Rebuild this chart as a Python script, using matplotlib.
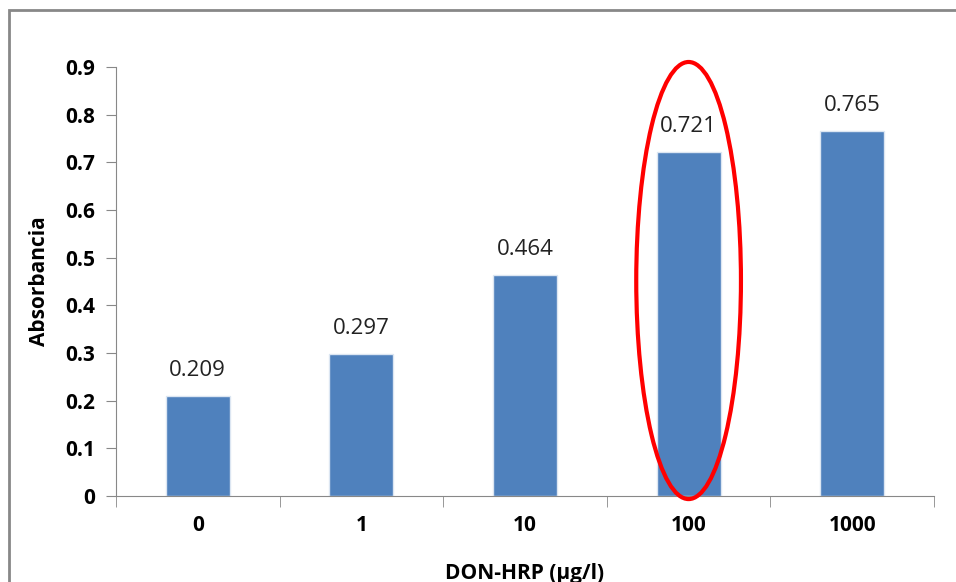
import matplotlib.pyplot as plt
from matplotlib.patches import Ellipse, Rectangle

plt.rcParams['font.family'] = ['Open Sans', 'DejaVu Sans']

# Data
categories = ['0', '1', '10', '100', '1000']
absorbance = [0.209, 0.297, 0.464, 0.721, 0.765]
value_labels = ['0.209', '0.297', '0.464', '0.721', '0.765']
highlight = 3  # index of the circled bar

fig = plt.figure(figsize=(9.56, 5.82), dpi=100)
ax = fig.add_axes([0.1213, 0.1478, 0.8557, 0.7371])

x = range(len(categories))
ax.bar(x, absorbance, width=0.39, color='#4F81BD', edgecolor='#DCE6F2', linewidth=1.0, zorder=2)

for xi, v, lab in zip(x, absorbance, value_labels):
    ax.annotate(lab, (xi, v), xytext=(0, 11), textcoords='offset points',
                ha='center', va='bottom', fontsize=16, color='#222222')

ax.set_xlim(-0.5, len(categories) - 0.5)
ax.set_ylim(0, 0.9)
ax.set_yticks([i / 10 for i in range(10)])
ax.set_yticklabels(['0'] + ['0.%d' % i for i in range(1, 10)])

ax.set_xticks(list(x))
ax.set_xticklabels(categories)
ax.set_xticks([i - 0.5 for i in range(len(categories) + 1)], minor=True)
ax.tick_params(axis='x', which='major', length=0, pad=14, labelsize=15)
ax.tick_params(axis='x', which='minor', length=8, color='#888888', direction='out')
ax.tick_params(axis='y', length=7, color='#888888', pad=8, labelsize=15)
for lab in ax.get_xticklabels() + ax.get_yticklabels():
    lab.set_fontweight('bold')

for side in ['top', 'right']:
    ax.spines[side].set_visible(False)
for side in ['left', 'bottom']:
    ax.spines[side].set_color('#888888')

ax.set_ylabel('Absorbancia', fontsize=15, fontweight='bold', labelpad=11)
ax.set_xlabel('DON-HRP (µg/l)', fontsize=15, fontweight='bold', labelpad=19)

# red ellipse around the highlighted bar
ell = Ellipse((highlight, 0.452), width=0.64, height=0.917, fill=False,
              edgecolor='red', linewidth=3, clip_on=False, zorder=3)
ax.add_patch(ell)

# outer chart border (runs off the right and bottom edges)
fig.patches.append(Rectangle((9 / 956, -0.1), 1.2, 1.083, transform=fig.transFigure,
                             fill=False, edgecolor='#888888', linewidth=2))

fig.savefig('out.png', dpi=100)
